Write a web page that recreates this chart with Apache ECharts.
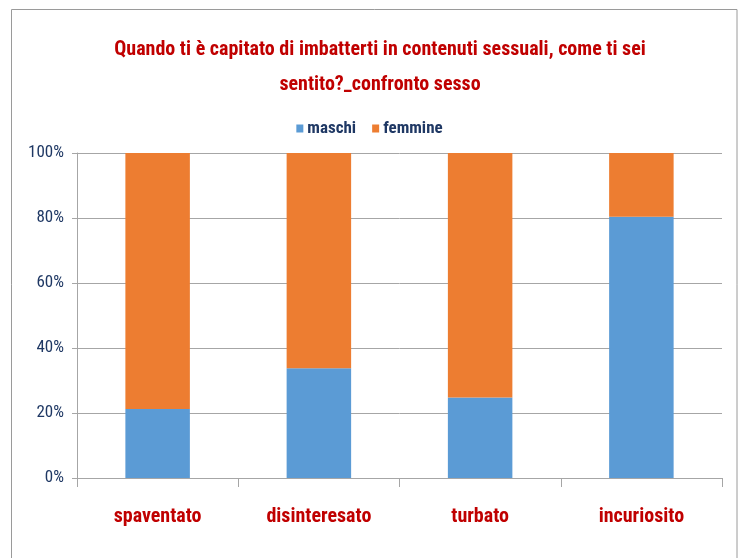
<!DOCTYPE html>
<html>
<head>
<meta charset="utf-8">
<script src="https://cdn.jsdelivr.net/npm/echarts@6/dist/echarts.min.js"></script>
<style>
html,body{margin:0;padding:0;background:#fff;}
#c{width:739px;height:558px;}
</style>
</head>
<body>
<div id="c"></div>
<script>
const categories = ['spaventato', 'disinteresato', 'turbato', 'incuriosito'];
const maschi = [21.2, 33.8, 24.8, 80.4];
const femmine = [78.8, 66.2, 75.2, 19.6];
const titleLines = ['Quando ti è capitato di imbatterti in contenuti sessuali, come ti sei', 'sentito?_confronto sesso'];
const seriesNames = ['maschi', 'femmine'];

const FONT = '"Roboto Condensed", "Open Sans Condensed", sans-serif';
const chart = echarts.init(document.getElementById('c'), null, {renderer: 'canvas'});
chart.setOption({
  backgroundColor: '#ffffff',
  animation: false,
  title: {
    text: titleLines.join('\n'),
    left: 375, top: 27, textAlign: 'center',
    textStyle: {color: '#C00000', fontFamily: FONT, fontWeight: 'bold', fontSize: 20, lineHeight: 35}
  },
  legend: {
    data: seriesNames,
    left: 'center', top: 115,
    itemWidth: 7, itemHeight: 8, itemGap: 16,
    icon: 'rect',
    textStyle: {color: '#1F3864', fontFamily: FONT, fontWeight: 'bold', fontSize: 17, padding: [0, 0, 0, -1]}
  },
  graphic: [{
    type: 'rect', shape: {x: 11.5, y: 9.5, width: 725.5, height: 600},
    style: {fill: 'none', stroke: '#9a9a9a', lineWidth: 1}, silent: true, z: -1
  }],
  grid: {left: 77, right: 17, top: 153, bottom: 80, containLabel: false},
  xAxis: {
    type: 'category', data: categories,
    axisLine: {lineStyle: {color: '#A6A6A6'}},
    axisTick: {show: true, length: 9, lineStyle: {color: '#A6A6A6'}},
    axisLabel: {interval: 0, color: '#C00000', fontFamily: FONT, fontWeight: 'bold', fontSize: 20, margin: 29}
  },
  yAxis: {
    type: 'value', min: 0, max: 100, interval: 20,
    axisLine: {show: true, lineStyle: {color: '#A6A6A6'}},
    axisTick: {show: true, length: 5, lineStyle: {color: '#A6A6A6'}},
    splitLine: {lineStyle: {color: '#A6A6A6'}},
    axisLabel: {formatter: '{value}%', color: '#1F3864', fontFamily: FONT, fontSize: 17, margin: 13}
  },
  series: [
    {name: seriesNames[0], type: 'bar', stack: 's', data: maschi, barWidth: '40%', itemStyle: {color: '#5B9BD5'}},
    {name: seriesNames[1], type: 'bar', stack: 's', data: femmine, barWidth: '40%', itemStyle: {color: '#ED7D31'}}
  ]
});
</script>
</body>
</html>
